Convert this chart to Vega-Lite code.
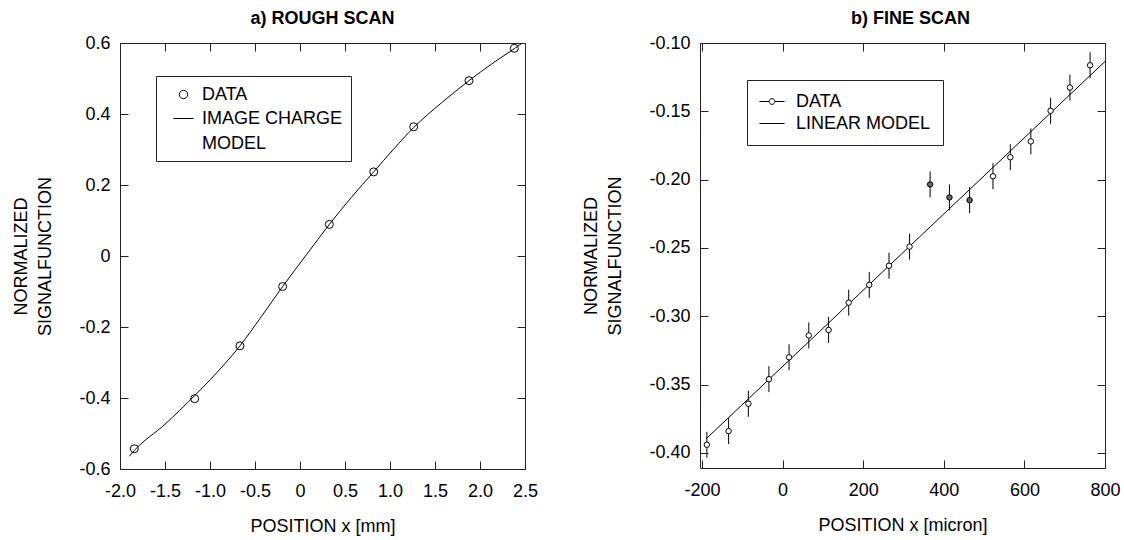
{
  "$schema": "https://vega.github.io/schema/vega-lite/v6.json",
  "background": "white",
  "padding": {"left": 12, "top": 10, "right": 5, "bottom": 5},
  "spacing": 44,
  "config": {
    "font": "Liberation Sans",
    "view": {"stroke": null},
    "style": {"guide-label": {"lineHeight": 25}},
    "axis": {
      "domainColor": "#222",
      "tickColor": "#222",
      "tickSize": -8,
      "grid": false,
      "labelFont": "Liberation Sans",
      "labelFontSize": 18,
      "labelColor": "black",
      "labelFlush": false,
      "labelOverlap": false,
      "labelBound": false,
      "titleFont": "Liberation Sans",
      "titleFontSize": 18,
      "titleFontWeight": "normal",
      "titleColor": "black"
    },
    "axisX": {"labelPadding": 21, "titlePadding": 17},
    "axisY": {"labelPadding": 18, "titlePadding": 24, "titleLineHeight": 24},
    "title": {"font": "Liberation Sans", "fontSize": 18, "fontWeight": "bold", "color": "black", "offset": 6, "frame": "group"},
    "legend": {
      "orient": "none",
      "strokeColor": "#222",
      "labelFont": "Liberation Sans",
      "labelFontSize": 18,
      "labelColor": "black",
      "labelLimit": 400,
      "symbolStrokeColor": "black",
      "symbolFillColor": "transparent",
      "symbolStrokeWidth": 1,
      "symbolOpacity": 1,
      "title": null
    }
  },
  "resolve": {"scale": {"shape": "independent"}, "legend": {"shape": "independent"}},
  "datasets": {
    "rough": [
      {"x": -1.841, "y": -0.543, "series": "DATA"},
      {"x": -1.170, "y": -0.402, "series": "DATA"},
      {"x": -0.667, "y": -0.253, "series": "DATA"},
      {"x": -0.193, "y": -0.086, "series": "DATA"},
      {"x": 0.326, "y": 0.089, "series": "DATA"},
      {"x": 0.819, "y": 0.237, "series": "DATA"},
      {"x": 1.263, "y": 0.364, "series": "DATA"},
      {"x": 1.878, "y": 0.494, "series": "DATA"},
      {"x": 2.381, "y": 0.585, "series": "DATA"}
    ],
    "imageCharge": [
      {"x": -1.896, "y": -0.564},
      {"x": -1.841, "y": -0.548},
      {"x": -1.5, "y": -0.474},
      {"x": -1.17, "y": -0.393},
      {"x": -1.0, "y": -0.349},
      {"x": -0.667, "y": -0.253},
      {"x": -0.43, "y": -0.171},
      {"x": -0.193, "y": -0.086},
      {"x": 0.07, "y": 0.003},
      {"x": 0.326, "y": 0.089},
      {"x": 0.57, "y": 0.165},
      {"x": 0.819, "y": 0.237},
      {"x": 1.04, "y": 0.301},
      {"x": 1.263, "y": 0.362},
      {"x": 1.57, "y": 0.431},
      {"x": 1.878, "y": 0.494},
      {"x": 2.13, "y": 0.541},
      {"x": 2.381, "y": 0.584},
      {"x": 2.46, "y": 0.598}
    ],
    "fine": [
      {"x": -188, "y": -0.394, "err": 0.0095, "excluded": false, "series": "DATA"},
      {"x": -134, "y": -0.384, "err": 0.0095, "excluded": false, "series": "DATA"},
      {"x": -85, "y": -0.364, "err": 0.0095, "excluded": false, "series": "DATA"},
      {"x": -34, "y": -0.346, "err": 0.0095, "excluded": false, "series": "DATA"},
      {"x": 16, "y": -0.330, "err": 0.0095, "excluded": false, "series": "DATA"},
      {"x": 65, "y": -0.314, "err": 0.0095, "excluded": false, "series": "DATA"},
      {"x": 114, "y": -0.310, "err": 0.0095, "excluded": false, "series": "DATA"},
      {"x": 164, "y": -0.290, "err": 0.0095, "excluded": false, "series": "DATA"},
      {"x": 215, "y": -0.277, "err": 0.0095, "excluded": false, "series": "DATA"},
      {"x": 264, "y": -0.263, "err": 0.0095, "excluded": false, "series": "DATA"},
      {"x": 315, "y": -0.249, "err": 0.0095, "excluded": false, "series": "DATA"},
      {"x": 366, "y": -0.2035, "err": 0.0095, "excluded": true, "series": "DATA"},
      {"x": 414, "y": -0.213, "err": 0.0095, "excluded": true, "series": "DATA"},
      {"x": 464, "y": -0.215, "err": 0.0095, "excluded": true, "series": "DATA"},
      {"x": 522, "y": -0.1975, "err": 0.0095, "excluded": false, "series": "DATA"},
      {"x": 565, "y": -0.1836, "err": 0.0095, "excluded": false, "series": "DATA"},
      {"x": 616, "y": -0.172, "err": 0.0095, "excluded": false, "series": "DATA"},
      {"x": 665, "y": -0.1496, "err": 0.0095, "excluded": false, "series": "DATA"},
      {"x": 713, "y": -0.1326, "err": 0.0095, "excluded": false, "series": "DATA"},
      {"x": 763, "y": -0.1163, "err": 0.0095, "excluded": false, "series": "DATA"}
    ],
    "linearModel": [
      {"x": -190, "y": -0.3897},
      {"x": 800, "y": -0.1135}
    ]
  },
  "hconcat": [
    {
      "title": "a) ROUGH SCAN",
      "width": 405,
      "height": 426,
      "resolve": {"axis": {"x": "independent", "y": "independent"}},
      "layer": [
        {
          "data": {"name": "imageCharge"},
          "mark": {"type": "line", "color": "black", "strokeWidth": 1, "interpolate": "monotone"},
          "encoding": {
            "x": {
              "field": "x", "type": "quantitative",
              "scale": {"domain": [-2, 2.5], "nice": false, "zero": false},
              "axis": {
                "orient": "bottom",
                "title": "POSITION x [mm]",
                "values": [-2, -1.5, -1, -0.5, 0, 0.5, 1, 1.5, 2, 2.5],
                "labelExpr": "datum.value == 0 ? '0' : (datum.value < 0 ? '-' : '') + format(abs(datum.value), '.1f')"
              }
            },
            "y": {
              "field": "y", "type": "quantitative",
              "scale": {"domain": [-0.6, 0.6], "nice": false, "zero": false},
              "axis": {
                "orient": "left",
                "title": ["NORMALIZED", "SIGNALFUNCTION"],
                "values": [-0.6, -0.4, -0.2, 0, 0.2, 0.4, 0.6],
                "labelExpr": "datum.value == 0 ? '0' : (datum.value < 0 ? '-' : '') + format(abs(datum.value), '.1f')"
              }
            }
          }
        },
        {
          "data": {"name": "rough"},
          "mark": {"type": "point", "shape": "circle", "filled": false, "color": "black", "strokeWidth": 1, "size": 64, "opacity": 1},
          "encoding": {
            "x": {
              "field": "x", "type": "quantitative",
              "scale": {"domain": [-2, 2.5], "nice": false, "zero": false},
              "axis": {"orient": "top", "labels": false, "title": null, "values": [-2, -1.5, -1, -0.5, 0, 0.5, 1, 1.5, 2, 2.5]}
            },
            "y": {
              "field": "y", "type": "quantitative",
              "scale": {"domain": [-0.6, 0.6], "nice": false, "zero": false},
              "axis": {"orient": "right", "labels": false, "title": null, "values": [-0.6, -0.4, -0.2, 0, 0.2, 0.4, 0.6]}
            }
          }
        },
        {
          "data": {"name": "rough"},
          "mark": {"type": "point", "opacity": 0, "size": 0},
          "encoding": {
            "x": {"field": "x", "type": "quantitative", "scale": {"domain": [-2, 2.5], "nice": false, "zero": false}, "axis": null},
            "y": {"field": "y", "type": "quantitative", "scale": {"domain": [-0.6, 0.6], "nice": false, "zero": false}, "axis": null},
            "shape": {
              "field": "series", "type": "nominal",
              "scale": {
                "domain": ["DATA", "IMAGE CHARGE MODEL"],
                "range": ["M-0.42,0A0.42,0.42,0,1,1,0.42,0A0.42,0.42,0,1,1,-0.42,0", "M-1,0L1,0"]
              },
              "legend": {
                "legendX": 36,
                "legendY": 33,
                "padding": 8,
                "symbolSize": 400,
                "symbolOffset": 9,
                "labelOffset": 8,
                "rowPadding": 4,
                "labelExpr": "datum.label == 'IMAGE CHARGE MODEL' ? ['IMAGE CHARGE\u00a0\u00a0', 'MODEL'] : datum.label"
              }
            }
          }
        }
      ]
    },
    {
      "title": {"text": "b) FINE SCAN", "dx": 8},
      "width": 405,
      "height": 425,
      "resolve": {"axis": {"x": "independent", "y": "independent"}},
      "layer": [
        {
          "data": {"name": "fine"},
          "mark": {"type": "errorbar", "ticks": false, "rule": {"color": "black", "strokeWidth": 1}},
          "encoding": {
            "x": {
              "field": "x", "type": "quantitative",
              "scale": {"domain": [-205, 800], "nice": false, "zero": false},
              "axis": {
                "orient": "bottom",
                "title": "POSITION x [micron]",
                "values": [-200, 0, 200, 400, 600, 800],
                "labelExpr": "(datum.value < 0 ? '-' : '') + format(abs(datum.value), 'd')"
              }
            },
            "y": {
              "field": "y", "type": "quantitative",
              "scale": {"domain": [-0.411, -0.1], "nice": false, "zero": false},
              "axis": {
                "orient": "left",
                "title": ["NORMALIZED", "SIGNALFUNCTION"],
                "values": [-0.4, -0.35, -0.3, -0.25, -0.2, -0.15, -0.1],
                "labelExpr": "(datum.value < 0 ? '-' : '') + format(abs(datum.value), '.2f')"
              }
            },
            "yError": {"field": "err"}
          }
        },
        {
          "data": {"name": "linearModel"},
          "mark": {"type": "line", "color": "black", "strokeWidth": 1},
          "encoding": {
            "x": {
              "field": "x", "type": "quantitative",
              "scale": {"domain": [-205, 800], "nice": false, "zero": false},
              "axis": {"orient": "top", "labels": false, "title": null, "values": [-200, 0, 200, 400, 600, 800]}
            },
            "y": {
              "field": "y", "type": "quantitative",
              "scale": {"domain": [-0.411, -0.1], "nice": false, "zero": false},
              "axis": {"orient": "right", "labels": false, "title": null, "values": [-0.4, -0.35, -0.3, -0.25, -0.2, -0.15, -0.1]}
            }
          }
        },
        {
          "data": {"name": "fine"},
          "mark": {"type": "point", "shape": "circle", "filled": false, "stroke": "black", "strokeWidth": 1, "size": 30, "opacity": 1},
          "encoding": {
            "x": {"field": "x", "type": "quantitative", "scale": {"domain": [-205, 800], "nice": false, "zero": false}, "axis": null},
            "y": {"field": "y", "type": "quantitative", "scale": {"domain": [-0.411, -0.1], "nice": false, "zero": false}, "axis": null},
            "fill": {
              "condition": {"test": "datum.excluded", "value": "#666666"},
              "value": "white"
            }
          }
        },
        {
          "data": {"name": "fine"},
          "mark": {"type": "point", "opacity": 0, "size": 0},
          "encoding": {
            "x": {"field": "x", "type": "quantitative", "scale": {"domain": [-205, 800], "nice": false, "zero": false}, "axis": null},
            "y": {"field": "y", "type": "quantitative", "scale": {"domain": [-0.411, -0.1], "nice": false, "zero": false}, "axis": null},
            "shape": {
              "field": "series", "type": "nominal",
              "scale": {
                "domain": ["DATA", "LINEAR MODEL"],
                "range": ["M-1.39,0L-0.32,0M0.32,0L1.39,0M-0.32,0A0.32,0.32,0,1,1,0.32,0A0.32,0.32,0,1,1,-0.32,0", "M-1.39,0L1.39,0"]
              },
              "legend": {
                "legendX": 47,
                "legendY": 37,
                "padding": 12,
                "symbolSize": 324,
                "symbolOffset": 3.5,
                "labelOffset": 14.5,
                "rowPadding": 3
              }
            }
          }
        }
      ]
    }
  ]
}
